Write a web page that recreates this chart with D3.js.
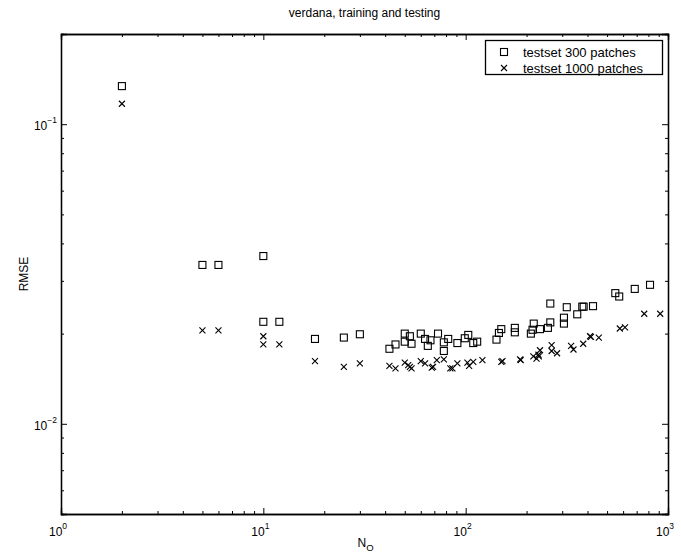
<!DOCTYPE html>
<html>
<head>
<meta charset="utf-8">
<script src="https://cdn.jsdelivr.net/npm/d3@7"></script>
<style>
  body { margin: 0; background: #fff; }
  svg { display: block; font-family: "Liberation Sans", Arial, Helvetica, sans-serif; }
</style>
</head>
<body>
<script>
// testset 300 patches (squares)
const nO300 = [2, 5, 6, 10, 10, 12, 18, 25, 30, 42, 45, 50, 50, 53, 54, 60, 63, 65, 67, 73,
  78, 78, 82, 91, 99, 103, 109, 114, 142, 146, 150, 175, 175, 210, 214, 217, 233, 255, 262, 262,
  306, 306, 316, 356, 377, 383, 426, 549, 574, 685, 815];
const rmse300 = [0.134, 0.0339, 0.0339, 0.0363, 0.0219, 0.0219, 0.0192, 0.0194, 0.0199, 0.0178,
  0.0184, 0.0200, 0.0188, 0.0196, 0.0185, 0.0200, 0.0192, 0.0182, 0.0190, 0.0200,
  0.0187, 0.0175, 0.0192, 0.0186, 0.0193, 0.0198, 0.0186, 0.0188, 0.0191, 0.0201,
  0.0207, 0.0202, 0.0209, 0.0200, 0.0206, 0.0216, 0.0207, 0.0209, 0.0218, 0.0252,
  0.0216, 0.0226, 0.0245, 0.0232, 0.0246, 0.0246, 0.0247, 0.0273, 0.0266, 0.0282, 0.0291];

// testset 1000 patches (crosses)
const nO1000 = [2, 5, 6, 10, 10, 12, 18, 25, 30, 42, 45, 50, 52, 53, 54, 60, 63, 68, 69, 72,
  78, 84, 86, 91, 102, 104, 109, 121, 150, 152, 186, 187, 216, 224, 230, 233, 229, 266, 266, 283,
  332, 341, 381, 412, 416, 455, 578, 613, 763, 915];
const rmse1000 = [0.117, 0.0205, 0.0205, 0.0196, 0.0184, 0.0184, 0.0162, 0.0155, 0.0159, 0.0156,
  0.0153, 0.0160, 0.0157, 0.0155, 0.0153, 0.0162, 0.0159, 0.0154, 0.0155, 0.0163,
  0.0164, 0.0153, 0.0153, 0.0159, 0.0160, 0.0156, 0.0161, 0.0163, 0.0161, 0.0162,
  0.0164, 0.0163, 0.0168, 0.0165, 0.0168, 0.0176, 0.0170, 0.0183, 0.0175, 0.0172,
  0.0182, 0.0177, 0.0185, 0.0196, 0.0195, 0.0194, 0.0208, 0.0210, 0.0233, 0.0233];

const xMajor = [1, 10, 100, 1000];
const xMajorExp = ["0", "1", "2", "3"];
const yMajor = [0.01, 0.1];
const yMajorExp = ["\u22122", "\u22121"];
const seriesNames = ["testset 300 patches", "testset 1000 patches"];

const WIDTH = 681;
const HEIGHT = 555;
const margin = { top: 34, bottom: 41, left: 61, right: 13 };
const WIDTHVIS = WIDTH - margin.left - margin.right;
const HEIGHTVIS = HEIGHT - margin.top - margin.bottom;

const SVG = d3.select("body").append("svg")
  .attr("width", WIDTH).attr("height", HEIGHT);

const grafico = SVG.append("g")
  .attr("transform", `translate(${margin.left}, ${margin.top})`);

const escalaX = d3.scaleLog().domain([1, 1000]).range([0, WIDTHVIS]);
const escalaY = d3.scaleLog().domain([0.005, 0.2]).range([HEIGHTVIS, 0]);

// minor ticks 2..9 of every decade
const xMinor = [];
[1, 10, 100].forEach(d => { for (let k = 2; k <= 9; k++) xMinor.push(d * k); });
const yMinor = [];
[0.001, 0.01, 0.1].forEach(d => {
  for (let k = 2; k <= 9; k++) {
    const v = +(d * k).toPrecision(3);
    if (v > 0.005 && v < 0.2) yMinor.push(v);
  }
});
yMinor.push(0.005);

function addAxis(axis, values, size, tr) {
  grafico.append("g")
    .attr("transform", tr)
    .call(axis.tickValues(values).tickSize(size).tickFormat(""))
    .call(g => g.select(".domain").attr("stroke", "#000").attr("stroke-width", 1.3))
    .call(g => g.selectAll(".tick line").attr("stroke", "#000"));
}

// ticks pointing inside on all four sides
addAxis(d3.axisBottom(escalaX), xMajor, -6, `translate(0, ${HEIGHTVIS})`);
addAxis(d3.axisBottom(escalaX), xMinor, -3, `translate(0, ${HEIGHTVIS})`);
addAxis(d3.axisTop(escalaX), xMajor, -6, "translate(0, 0)");
addAxis(d3.axisTop(escalaX), xMinor, -3, "translate(0, 0)");
addAxis(d3.axisLeft(escalaY), yMajor, -6, "translate(0, 0)");
addAxis(d3.axisLeft(escalaY), yMinor, -3, "translate(0, 0)");
addAxis(d3.axisRight(escalaY), yMajor, -6, `translate(${WIDTHVIS}, 0)`);
addAxis(d3.axisRight(escalaY), yMinor, -3, `translate(${WIDTHVIS}, 0)`);

// tick labels as 10^k
const xl = grafico.selectAll(".xlab").data(xMajor).join("text")
  .attr("class", "xlab")
  .attr("x", d => escalaX(d) - 3)
  .attr("y", HEIGHTVIS + 22)
  .attr("text-anchor", "middle")
  .attr("font-size", 12);
xl.append("tspan").text("10");
xl.append("tspan").attr("dy", -7).attr("font-size", 8.5).text((d, i) => xMajorExp[i]);

const yl = grafico.selectAll(".ylab").data(yMajor).join("text")
  .attr("class", "ylab")
  .attr("x", -4)
  .attr("y", d => escalaY(d) + 6)
  .attr("text-anchor", "end")
  .attr("font-size", 12);
yl.append("tspan").text("10");
yl.append("tspan").attr("dy", -7).attr("font-size", 8.5).text((d, i) => yMajorExp[i]);

// title and axis labels
SVG.append("text")
  .attr("x", margin.left + WIDTHVIS / 2)
  .attr("y", 17)
  .attr("text-anchor", "middle")
  .attr("font-size", 12)
  .text("verdana, training and testing");

const xt = SVG.append("text")
  .attr("x", margin.left + WIDTHVIS / 2 - 7)
  .attr("y", 547)
  .attr("font-size", 12);
xt.append("tspan").text("N");
xt.append("tspan").attr("dy", 4).attr("font-size", 9.5).text("O");

SVG.append("text")
  .attr("transform", `translate(28, ${margin.top + HEIGHTVIS / 2}) rotate(-90)`)
  .attr("text-anchor", "middle")
  .attr("font-size", 12)
  .text("RMSE");

// markers
const datos300 = nO300.map((d, i) => ({ x: d, y: rmse300[i] }));
const datos1000 = nO1000.map((d, i) => ({ x: d, y: rmse1000[i] }));

function cuadrado(sel) {
  sel.append("rect")
    .attr("x", -3.5).attr("y", -3.5).attr("width", 7).attr("height", 7)
    .attr("fill", "none").attr("stroke", "#000").attr("stroke-width", 1.1);
}
function cruz(sel) {
  sel.append("path")
    .attr("d", "M-3,-3L3,3M-3,3L3,-3")
    .attr("fill", "none").attr("stroke", "#000").attr("stroke-width", 1.1);
}

grafico.selectAll(".sq").data(datos300).join("g")
  .attr("class", "sq")
  .attr("transform", d => `translate(${escalaX(d.x)}, ${escalaY(d.y)})`)
  .call(cuadrado);

grafico.selectAll(".cx").data(datos1000).join("g")
  .attr("class", "cx")
  .attr("transform", d => `translate(${escalaX(d.x)}, ${escalaY(d.y)})`)
  .call(cruz);

// legend
const leyenda = SVG.append("g").attr("transform", "translate(485, 40)");
leyenda.append("rect")
  .attr("x", 0.5).attr("y", 0.5).attr("width", 177).attr("height", 34)
  .attr("fill", "#fff").attr("stroke", "#000").attr("stroke-width", 1.3);
seriesNames.forEach((nombre, i) => {
  const fila = leyenda.append("g").attr("transform", `translate(19, ${12 + i * 16})`);
  if (i === 0) cuadrado(fila); else cruz(fila);
  fila.append("text")
    .attr("x", 19).attr("y", 4.5)
    .attr("font-size", 13)
    .text(nombre);
});
</script>
</body>
</html>
